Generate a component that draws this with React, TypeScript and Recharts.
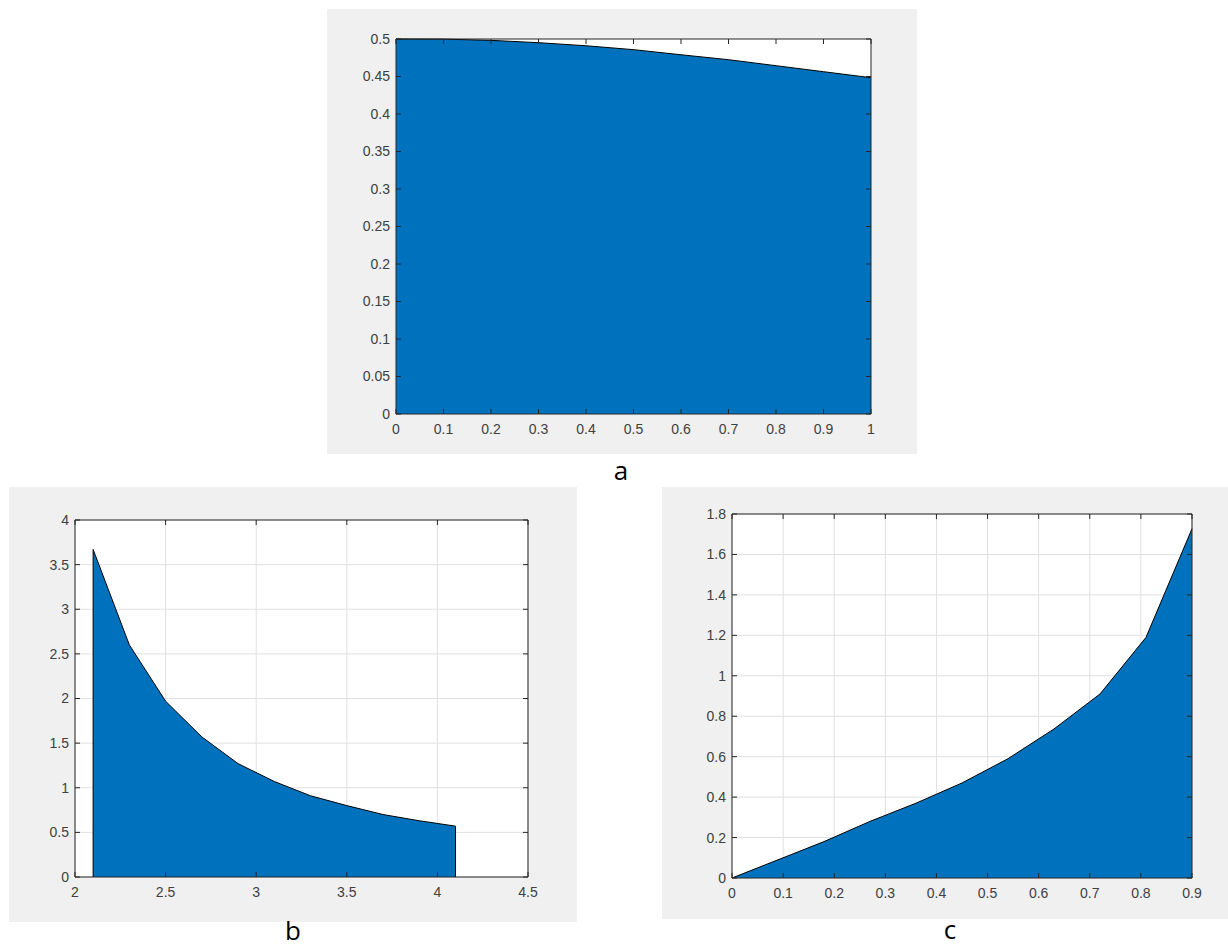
import { AreaChart, Area, XAxis, YAxis, CartesianGrid } from 'recharts';

// panel a
const aX = [0, 0.1, 0.2, 0.3, 0.4, 0.5, 0.6, 0.7, 0.8, 0.9, 1];
const aY = [0.5, 0.4998, 0.4982, 0.4951, 0.491, 0.4858, 0.479, 0.4724, 0.4644, 0.4564, 0.4484];
const aXTicks = [0, 0.1, 0.2, 0.3, 0.4, 0.5, 0.6, 0.7, 0.8, 0.9, 1];
const aYTicks = [0, 0.05, 0.1, 0.15, 0.2, 0.25, 0.3, 0.35, 0.4, 0.45, 0.5];

// panel b (patch closes down to 0 at both ends)
const bX = [2.1, 2.1, 2.3, 2.5, 2.7, 2.9, 3.1, 3.3, 3.5, 3.7, 3.9, 4.1, 4.1];
const bY = [0, 3.67, 2.6, 1.97, 1.57, 1.27, 1.07, 0.91, 0.8, 0.7, 0.63, 0.57, 0];
const bXTicks = [2, 2.5, 3, 3.5, 4, 4.5];
const bYTicks = [0, 0.5, 1, 1.5, 2, 2.5, 3, 3.5, 4];

// panel c
const cX = [0, 0.09, 0.18, 0.27, 0.36, 0.45, 0.54, 0.63, 0.72, 0.81, 0.9];
const cY = [0, 0.09, 0.18, 0.28, 0.37, 0.47, 0.59, 0.737, 0.91, 1.19, 1.727];
const cXTicks = [0, 0.1, 0.2, 0.3, 0.4, 0.5, 0.6, 0.7, 0.8, 0.9];
const cYTicks = [0, 0.2, 0.4, 0.6, 0.8, 1, 1.2, 1.4, 1.6, 1.8];

const AXIS = '#262626';
const tickStyle = { fill: '#404040', fontSize: 14, fontFamily: 'Liberation Sans, Arial, sans-serif' };
const blank = () => '';

interface PanelProps {
  xs: number[];
  ys: number[];
  xTicks: number[];
  yTicks: number[];
  left: number;
  top: number;
  width: number;
  height: number;
  margin: { top: number; right: number };
  yAxisWidth: number;
  xAxisHeight: number;
  grid: boolean;
}

function Panel({ xs, ys, xTicks, yTicks, left, top, width, height, margin, yAxisWidth, xAxisHeight, grid }: PanelProps) {
  const data = xs.map((x, i) => ({ x, y: ys[i] }));
  const xDomain = [xTicks[0], xTicks[xTicks.length - 1]];
  const yDomain = [yTicks[0], yTicks[yTicks.length - 1]];
  // top and right axes take 1px each, so margins shrink by 1
  return (
    <div style={{ position: 'absolute', left, top, width, height, background: '#f0f0f0' }}>
      <AreaChart width={width} height={height} data={data}
        margin={{ top: margin.top - 1, right: margin.right - 1, bottom: 0, left: 0 }}>
        {grid && <CartesianGrid stroke="#e1e1e1" strokeWidth={1} fill="#ffffff" />}
        {!grid && <CartesianGrid stroke="none" horizontal={false} vertical={false} fill="#ffffff" />}
        <Area type="linear" dataKey="y" fill="#0072bd" fillOpacity={1} stroke="#000000"
          strokeWidth={1} isAnimationActive={false} dot={false} activeDot={false} />
        <XAxis dataKey="x" type="number" domain={xDomain} ticks={xTicks} height={xAxisHeight}
          tickSize={-5} tickMargin={15} stroke={AXIS} tick={tickStyle} interval={0} />
        <XAxis xAxisId="top" dataKey="x" orientation="top" type="number" domain={xDomain} ticks={xTicks}
          allowDataOverflow height={1} tickSize={-5} tickMargin={0} stroke={AXIS}
          tickFormatter={blank} interval={0} />
        <YAxis type="number" domain={yDomain} ticks={yTicks} width={yAxisWidth}
          tickSize={-5} tickMargin={11} stroke={AXIS} tick={tickStyle} interval={0} />
        <YAxis yAxisId="right" orientation="right" type="number" domain={yDomain} ticks={yTicks}
          allowDataOverflow width={1} tickSize={-5} tickMargin={0} stroke={AXIS}
          tickFormatter={blank} interval={0} />
      </AreaChart>
    </div>
  );
}

const labelStyle = {
  position: 'absolute' as const,
  fontFamily: 'Open Sans, sans-serif',
  fontSize: 26,
  lineHeight: '26px',
  color: '#000',
  width: 40,
  textAlign: 'center' as const,
};

export default function App() {
  return (
    <div style={{ position: 'absolute', left: 0, top: 0, width: 1228, height: 947, background: '#ffffff', overflow: 'hidden' }}>
      <Panel xs={aX} ys={aY} xTicks={aXTicks} yTicks={aYTicks}
        left={327} top={9} width={590} height={445}
        margin={{ top: 30, right: 46 }} yAxisWidth={69} xAxisHeight={40} grid={false} />
      <Panel xs={bX} ys={bY} xTicks={bXTicks} yTicks={bYTicks}
        left={9} top={487} width={568} height={435}
        margin={{ top: 33, right: 49 }} yAxisWidth={66} xAxisHeight={45} grid={true} />
      <Panel xs={cX} ys={cY} xTicks={cXTicks} yTicks={cYTicks}
        left={662} top={487} width={566} height={432}
        margin={{ top: 27, right: 36 }} yAxisWidth={70} xAxisHeight={41} grid={true} />
      <div style={{ ...labelStyle, left: 601, top: 457 }}>a</div>
      <div style={{ ...labelStyle, left: 273, top: 917 }}>b</div>
      <div style={{ ...labelStyle, left: 930, top: 916 }}>c</div>
    </div>
  );
}
